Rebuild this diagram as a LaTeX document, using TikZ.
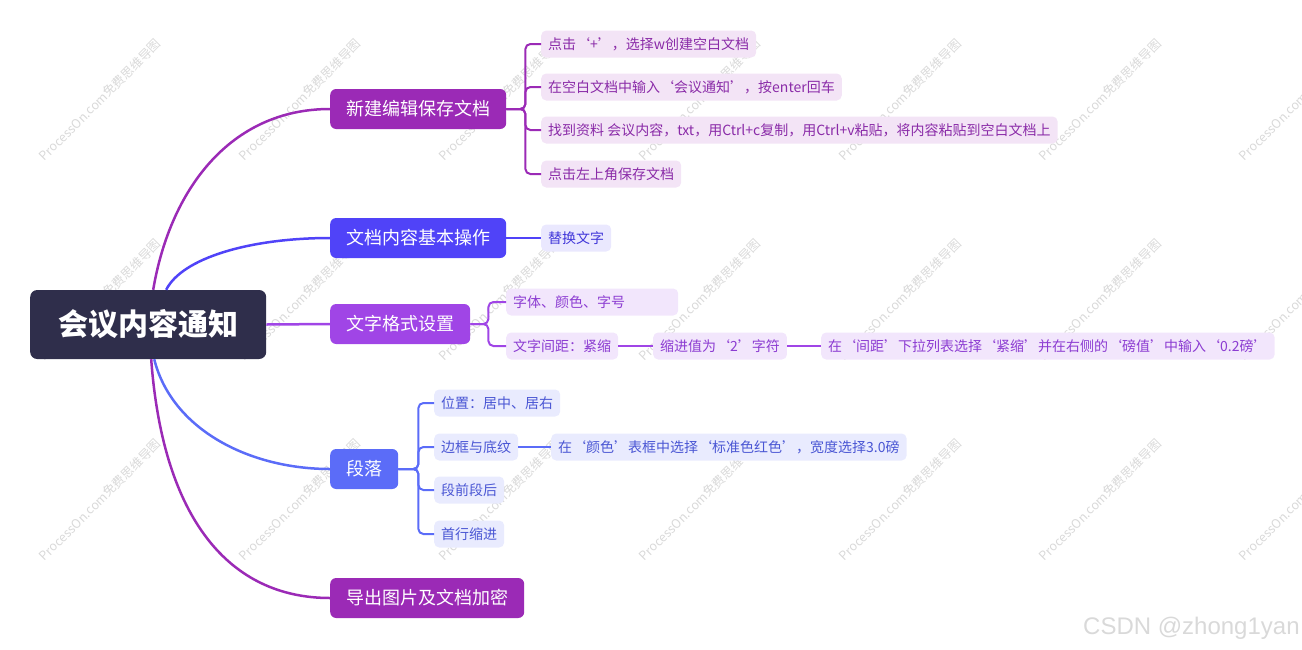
\documentclass[tikz,border=0pt]{standalone}
\usepackage{fontspec}
\setmainfont{Noto Sans CJK SC}
\newfontfamily\csdnfont{Liberation Sans}
\definecolor{rootc}{HTML}{2F2E4B}
\definecolor{ca}{HTML}{9B2AB6}
\definecolor{cb}{HTML}{5043F8}
\definecolor{cc}{HTML}{A045E6}
\definecolor{cd}{HTML}{5B6CF8}
\definecolor{fa}{HTML}{F3E4F6}
\definecolor{fb}{HTML}{EAE8FE}
\definecolor{fc}{HTML}{F2E6FC}
\definecolor{fd}{HTML}{E9EBFE}
\definecolor{ta}{HTML}{8A2BA8}
\definecolor{tb}{HTML}{4036D9}
\definecolor{tc}{HTML}{8C3CD2}
\definecolor{td}{HTML}{4A56D4}
\definecolor{wm}{HTML}{D9D9D9}
\tikzset{
  rootbox/.style={fill=rootc, rounded corners=7pt, minimum height=69pt, inner xsep=28pt, inner ysep=0pt,
    text=white, font=\fontsize{30}{33}\selectfont\bfseries, anchor=west},
  branch/.style={rounded corners=6pt, minimum height=40pt, inner xsep=16pt, inner ysep=0pt,
    text=white, font=\fontsize{18}{20}\selectfont, anchor=west},
  leaf/.style={rounded corners=5pt, minimum height=27pt, inner xsep=7pt, inner ysep=0pt,
    font=\fontsize{14}{16}\selectfont, anchor=west},
  leafa/.style={leaf, fill=fa, text=ta},
  leafb/.style={leaf, fill=fb, text=tb},
  leafc/.style={leaf, fill=fc, text=tc},
  leafd/.style={leaf, fill=fd, text=td},
  mainline/.style={line width=2.5pt},
  subline/.style={line width=2pt, rounded corners=5pt},
  wmark/.style={text=wm, rotate=45, font=\fontsize{12.5}{14}\selectfont},
}
\begin{document}
\begin{tikzpicture}[x=1pt,y=-1pt]
\useasboundingbox (0,0) rectangle (1302,649);
% watermarks
\foreach \i in {0,...,6}{
  \foreach \j in {0,...,2}{
    \node[wmark] (wm-\i-\j) at (100+200*\i,100+200*\j) {ProcessOn.com免费思维导图};
  }
}
\node[text=wm, font=\csdnfont\fontsize{24}{26}\selectfont, anchor=west, inner sep=0pt] (csdn) at (1083,628) {CSDN @zhong1yan};

% root and branches
\node[rootbox] (root) at (30,324.5) {会议内容通知};
\node[branch, fill=ca] (b1) at (330,109) {新建编辑保存文档};
\node[branch, fill=cb] (b2) at (330,238) {文档内容基本操作};
\node[branch, fill=cc] (b3) at (330,324) {文字格式设置};
\node[branch, fill=cd] (b4) at (330,469) {段落};
\node[branch, fill=ca] (b5) at (330,598) {导出图片及文档加密};

\draw[mainline, ca] ([xshift=5pt]root.north) .. controls (170,190) and (230,109) .. (b1.west);
\draw[mainline, cb] ([xshift=18pt]root.north) .. controls (182,258) and (250,238) .. (b2.west);
\draw[mainline, cc] (root.east) -- (b3.west);
\draw[mainline, cd] ([xshift=6pt]root.south) .. controls (172,430) and (250,469) .. (b4.west);
\draw[mainline, ca] ([xshift=3pt]root.south) .. controls (163,520) and (230,598) .. (b5.west);

% branch 1 leaves
\node[leafa] (a1) at (541,44) {点击‘+’，选择w创建空白文档};
\node[leafa] (a2) at (541,87) {在空白文档中输入‘会议通知’，按enter回车};
\node[leafa] (a3) at (541,130) {找到资料 会议内容，txt，用Ctrl+c复制，用Ctrl+v粘贴，将内容粘贴到空白文档上};
\node[leafa] (a4) at (541,174) {点击左上角保存文档};
\foreach \n in {a1,a2,a3,a4}{
  \draw[subline, ca] (b1.east) -- ++(19,0) |- (\n.west);
}

% branch 2 leaf
\node[leafb] (bl1) at (541,238) {替换文字};
\draw[subline, cb] (b2.east) -- (bl1.west);

% branch 3 leaves
\node[leafc, text width=158pt, align=left] (c1) at (506,302) {字体、颜色、字号};
\node[leafc] (c2) at (506,346) {文字间距：紧缩};
\node[leafc] (c3) at (653,346) {缩进值为‘2’字符};
\node[leafc] (c4) at (821,346) {在‘间距’下拉列表选择‘紧缩’并在右侧的‘磅值’中输入‘0.2磅’};
\foreach \n in {c1,c2}{
  \draw[subline, cc] (b3.east) -- ++(18,0) |- (\n.west);
}
\draw[subline, cc] (c2.east) -- (c3.west);
\draw[subline, cc] (c3.east) -- (c4.west);

% branch 4 leaves
\node[leafd] (d1) at (434,403) {位置：居中、居右};
\node[leafd] (d2) at (434,447) {边框与底纹};
\node[leafd] (d3) at (434,490) {段前段后};
\node[leafd] (d4) at (434,534) {首行缩进};
\node[leafd] (d5) at (551,447) {在‘颜色’表框中选择‘标准色红色’，宽度选择3.0磅};
\foreach \n in {d1,d2,d3,d4}{
  \draw[subline, cd] (b4.east) -- ++(20,0) |- (\n.west);
}
\draw[subline, cd] (d2.east) -- (d5.west);
\end{tikzpicture}
\end{document}
